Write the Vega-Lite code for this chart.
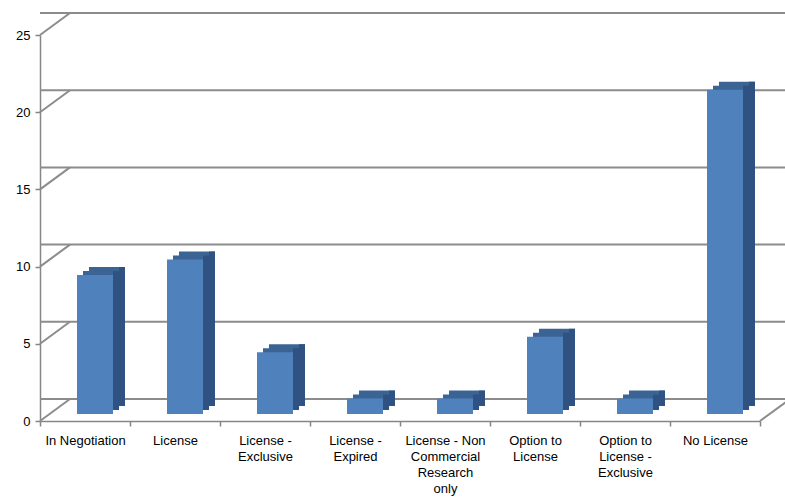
{
  "$schema": "https://vega.github.io/schema/vega-lite/v6.json",
  "width": 720,
  "height": 386,
  "autosize": "none",
  "padding": {"left": 40, "top": 35, "right": 25, "bottom": 77},
  "background": "white",
  "config": {
    "view": {"stroke": null},
    "font": "Liberation Sans",
    "axis": {"labelFont": "Liberation Sans", "labelFontSize": 13, "labelColor": "#000000", "domainColor": "#868686", "tickColor": "#868686", "domainWidth": 1.5, "tickWidth": 1.5}
  },
  "datasets": {
    "bars": [
      {"cat": "In Negotiation", "n": 9},
      {"cat": "License", "n": 10},
      {"cat": "License - Exclusive", "n": 4},
      {"cat": "License - Expired", "n": 1},
      {"cat": "License - Non Commercial Research only", "n": 1},
      {"cat": "Option to License", "n": 5},
      {"cat": "Option to License - Exclusive", "n": 1},
      {"cat": "No License", "n": 21}
    ],
    "grid": [{"v": 0}, {"v": 5}, {"v": 10}, {"v": 15}, {"v": 20}, {"v": 25}]
  },
  "encoding": {
    "x": {
      "field": "cat", "type": "nominal", "sort": null,
      "scale": {"domain": ["In Negotiation", "License", "License - Exclusive", "License - Expired", "License - Non Commercial Research only", "Option to License", "Option to License - Exclusive", "No License"], "paddingInner": 0, "paddingOuter": 0},
      "axis": {
        "title": null, "labelAngle": 0, "tickBand": "extent", "tickSize": 5, "labelPadding": 8, "labelLineHeight": 16,
        "labelExpr": "datum.value == 'License - Exclusive' ? ['License -', 'Exclusive'] : datum.value == 'License - Expired' ? ['License -', 'Expired'] : datum.value == 'License - Non Commercial Research only' ? ['License - Non', 'Commercial', 'Research', 'only'] : datum.value == 'Option to License' ? ['Option to', 'License'] : datum.value == 'Option to License - Exclusive' ? ['Option to', 'License -', 'Exclusive'] : datum.value"
      }
    }
  },
  "layer": [
    {
      "data": {"name": "grid"},
      "mark": {"type": "rule", "color": "#8C8C8C", "strokeWidth": 2, "xOffset": 30, "yOffset": -22, "clip": false},
      "encoding": {
        "x": null,
        "y": {"field": "v", "type": "quantitative", "scale": {"domain": [0, 25], "nice": false, "zero": true}, "axis": {"title": null, "values": [0, 5, 10, 15, 20, 25], "grid": false, "tickSize": 5, "labelPadding": 5}}
      }
    },
    {
      "data": {"name": "grid"},
      "mark": {"type": "rule", "color": "#8C8C8C", "strokeWidth": 2, "x2Offset": 30, "y2Offset": -22},
      "encoding": {
        "x": {"datum": "In Negotiation", "type": "nominal", "bandPosition": 0},
        "x2": {"datum": "In Negotiation", "bandPosition": 0},
        "y": {"field": "v", "type": "quantitative"},
        "y2": {"field": "v"}
      }
    },
    {
      "data": {"values": [{"v": 0}]},
      "mark": {"type": "rule", "color": "#8C8C8C", "strokeWidth": 2, "x2Offset": 30, "y2Offset": -22},
      "encoding": {
        "x": {"datum": "No License", "type": "nominal", "bandPosition": 1},
        "x2": {"datum": "No License", "bandPosition": 1},
        "y": {"field": "v", "type": "quantitative"},
        "y2": {"field": "v"}
      }
    },
    {
      "data": {"name": "bars"},
      "mark": {"type": "bar", "width": 36, "xOffset": 22, "yOffset": -15, "y2Offset": -15, "color": "#3B6495"},
      "encoding": {
        "y": {"field": "n", "type": "quantitative"},
        "y2": {"datum": 0}
      }
    },
    {
      "data": {"name": "bars"},
      "mark": {"type": "bar", "width": 6, "xOffset": 37, "yOffset": -15, "y2Offset": -15, "color": "#2F5282"},
      "encoding": {
        "y": {"field": "n", "type": "quantitative"},
        "y2": {"datum": 0}
      }
    },
    {
      "data": {"name": "bars"},
      "mark": {"type": "bar", "width": 36, "xOffset": 16, "yOffset": -11, "y2Offset": -11, "color": "#3B6495"},
      "encoding": {
        "y": {"field": "n", "type": "quantitative"},
        "y2": {"datum": 0}
      }
    },
    {
      "data": {"name": "bars"},
      "mark": {"type": "bar", "width": 6, "xOffset": 31, "yOffset": -11, "y2Offset": -11, "color": "#2F5282"},
      "encoding": {
        "y": {"field": "n", "type": "quantitative"},
        "y2": {"datum": 0}
      }
    },
    {
      "data": {"name": "bars"},
      "mark": {"type": "bar", "width": 36, "xOffset": 10, "yOffset": -7, "y2Offset": -7, "color": "#4F81BD"},
      "encoding": {
        "y": {"field": "n", "type": "quantitative"},
        "y2": {"datum": 0}
      }
    }
  ]
}
